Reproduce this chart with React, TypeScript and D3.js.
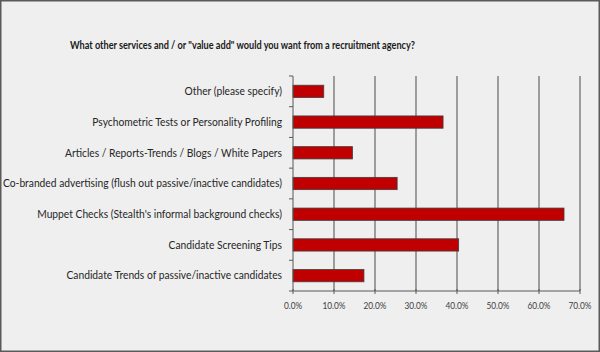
import React, { useRef, useEffect } from "react";
import * as d3 from "d3";

const categories = [
  "Other (please specify)",
  "Psychometric Tests or Personality Profiling",
  "Articles / Reports-Trends / Blogs / White Papers",
  "Co-branded advertising (flush out passive/inactive candidates)",
  "Muppet Checks (Stealth's informal background checks)",
  "Candidate Screening Tips",
  "Candidate Trends of passive/inactive candidates",
];
const values = [0.075, 0.366, 0.145, 0.254, 0.661, 0.404, 0.173];
const xTicks = [0, 0.1, 0.2, 0.3, 0.4, 0.5, 0.6, 0.7];
const title = 'What other services and / or "value add" would you want from a recruitment agency?';

// squeeze Lato horizontally so it sits closer to the narrow original face
const squeeze = (sel: any, factor: number) => {
  sel.each(function (this: SVGTextElement) {
    const w = this.getComputedTextLength();
    d3.select(this).attr("textLength", w * factor).attr("lengthAdjust", "spacingAndGlyphs");
  });
};

const App = () => {
  const svgRef = useRef<SVGSVGElement>(null);

  useEffect(() => {
    const width = 600;
    const height = 352;
    const left = 293, right = 580, top = 76, bottom = 291;
    const font = "Lato, 'Open Sans', sans-serif";

    const svg = d3.select(svgRef.current);
    svg.selectAll("*").remove();
    svg.attr("width", width).attr("height", height);

    svg.append("rect")
      .attr("x", 0.5).attr("y", 0.5)
      .attr("width", width - 1).attr("height", height - 1)
      .attr("fill", "#efefef")
      .attr("stroke", "#5a5a5a")
      .attr("stroke-width", 2);

    const x = d3.scaleLinear().domain([0, 0.7]).range([left, right]);
    const y = d3.scaleBand().domain(categories).range([top, bottom]).paddingInner(0.6).paddingOuter(0.3);
    const band = d3.scaleBand().domain(categories).range([top, bottom]);

    const t = svg.append("text")
      .attr("x", 70).attr("y", 49)
      .attr("font-family", font)
      .attr("font-weight", "bold")
      .attr("font-size", 11)
      .attr("fill", "#1a1a1a")
      .text(title);
    const tw = (t.node() as SVGTextElement).getComputedTextLength();
    squeeze(t, 345 / tw);

    // gridlines
    svg.append("g")
      .selectAll("line")
      .data(xTicks.slice(1))
      .join("line")
      .attr("x1", (d) => x(d)).attr("x2", (d) => x(d))
      .attr("y1", top).attr("y2", bottom)
      .attr("stroke", "#7a7a7a")
      .attr("stroke-width", 1.4);

    // bars
    svg.append("g")
      .selectAll("rect")
      .data(values)
      .join("rect")
      .attr("x", x(0))
      .attr("y", (d, i) => y(categories[i])!)
      .attr("width", (d) => x(d) - x(0))
      .attr("height", y.bandwidth())
      .attr("fill", "#c00000")
      .attr("stroke", "#3f3f3f")
      .attr("stroke-width", 0.8);

    // left axis
    const ax = svg.append("g").attr("stroke", "#595959").attr("stroke-width", 1);
    ax.append("line").attr("x1", left).attr("x2", left).attr("y1", top).attr("y2", bottom);
    ax.selectAll("line.t")
      .data(d3.range(categories.length + 1))
      .join("line")
      .attr("class", "t")
      .attr("x1", left - 4).attr("x2", left)
      .attr("y1", (i) => top + i * band.step()).attr("y2", (i) => top + i * band.step());

    // bottom axis
    ax.append("line").attr("x1", left).attr("x2", right).attr("y1", bottom).attr("y2", bottom);
    ax.selectAll("line.b")
      .data(xTicks)
      .join("line")
      .attr("class", "b")
      .attr("x1", (d) => x(d)).attr("x2", (d) => x(d))
      .attr("y1", bottom - 2).attr("y2", bottom + 3);

    const ticks = svg.append("g")
      .attr("font-family", font)
      .attr("font-size", 10)
      .attr("fill", "#404040")
      .attr("text-anchor", "middle")
      .selectAll("text")
      .data(xTicks)
      .join("text")
      .attr("x", (d) => x(d))
      .attr("y", 309)
      .text((d) => d3.format(".1%")(d));
    const tickW = (ticks.nodes()[1] as SVGTextElement).getComputedTextLength();
    squeeze(ticks, 23 / tickW);

    const labels = svg.append("g")
      .attr("font-family", font)
      .attr("font-size", 11)
      .attr("fill", "#262626")
      .attr("text-anchor", "end")
      .selectAll("text")
      .data(categories)
      .join("text")
      .attr("x", 282)
      .attr("y", (d) => band(d)! + band.bandwidth() / 2)
      .attr("dy", "0.35em")
      .text((d) => d);
    const labelW = (labels.nodes()[3] as SVGTextElement).getComputedTextLength();
    squeeze(labels, 279 / labelW);
  }, []);

  return (
    <svg ref={svgRef} style={{ position: "absolute", left: 0, top: 0 }}></svg>
  );
};

export default App;
